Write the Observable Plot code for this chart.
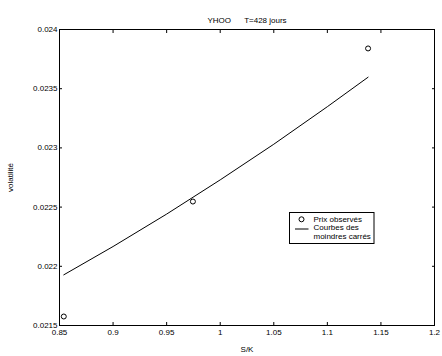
<!DOCTYPE html>
<html>
<head>
<meta charset="utf-8">
<script src="https://cdn.jsdelivr.net/npm/d3@7"></script>
<script src="https://cdn.jsdelivr.net/npm/@observablehq/plot@0.6"></script>
<style>
  html, body { margin: 0; padding: 0; background: #fff; }
  #chart svg { display: block; font-family: "Liberation Sans", Arial, sans-serif; }
</style>
</head>
<body>
<div id="chart"></div>
<script>
// Observed prices
const obsSK = [0.854, 0.9745, 1.138];
const obsVol = [0.021576, 0.022547, 0.02384];
// Least-squares curve
const fitSK = [0.854, 0.90, 0.95, 1.00, 1.05, 1.10, 1.138];
const fitVol = [0.021928, 0.022167, 0.022441, 0.022730, 0.023031, 0.023348, 0.023597];
// Ticks
const xTicks = [0.85, 0.9, 0.95, 1, 1.05, 1.1, 1.15, 1.2];
const yTicks = [0.0215, 0.022, 0.0225, 0.023, 0.0235, 0.024];
const titleText = "YHOO      T=428 jours";
const legendLabels = ["Prix observés", "Courbes des", "moindres carrés"];

const obs = obsSK.map((x, i) => ({x, y: obsVol[i]}));
const fit = fitSK.map((x, i) => ({x, y: fitVol[i]}));

const fmt = d => String(d);
const blank = () => "";

const chart = Plot.plot({
  width: 442,
  height: 356,
  marginLeft: 59,
  marginRight: 8,
  marginTop: 29,
  marginBottom: 31,
  style: {fontSize: "8px", fontFamily: "Liberation Sans, Arial, sans-serif", color: "#000", background: "#fff"},
  x: {domain: [0.85, 1.2]},
  y: {domain: [0.0215, 0.024]},
  marks: [
    Plot.frame({stroke: "#000", strokeWidth: 1}),
    Plot.axisX(xTicks, {anchor: "bottom", tickSize: -3, tickFormat: blank, label: null, stroke: "#000"}),
    Plot.axisX(xTicks, {anchor: "bottom", tickSize: 0, tickPadding: 4, tickFormat: fmt, label: "S/K", labelAnchor: "center", labelArrow: "none", labelOffset: 26, fill: "#000"}),
    Plot.axisX(xTicks, {anchor: "top", tickSize: -3, tickFormat: blank, label: null, stroke: "#000"}),
    Plot.axisY(yTicks, {anchor: "left", tickSize: -3, tickFormat: blank, label: null, stroke: "#000"}),
    Plot.axisY(yTicks, {anchor: "left", tickSize: 0, tickPadding: 2, tickFormat: fmt, label: "volatilité", labelAnchor: "center", labelArrow: "none", labelOffset: 52, fill: "#000"}),
    Plot.axisY(yTicks, {anchor: "right", tickSize: -3, tickFormat: blank, label: null, stroke: "#000"}),
    Plot.line(fit, {x: "x", y: "y", stroke: "#000", strokeWidth: 1}),
    Plot.dot(obs, {x: "x", y: "y", r: 2.5, stroke: "#000", fill: "none", strokeWidth: 1}),
    Plot.text([titleText], {frameAnchor: "top", dy: -12, text: d => d, fill: "#000", fontSize: 8})
  ]
});

document.getElementById("chart").appendChild(chart);

// Legend box (drawn inside the SVG)
const svg = d3.select(chart);
const g = svg.append("g").attr("font-size", 8).attr("font-family", "Liberation Sans, Arial, sans-serif")
  .attr("text-anchor", "start");
const bx = 289.5, by = 212.5, bw = 84.5, bh = 31;
g.append("rect").attr("x", bx).attr("y", by).attr("width", bw).attr("height", bh)
  .attr("fill", "#fff").attr("stroke", "#000").attr("stroke-width", 1);
g.append("circle").attr("cx", bx + 12).attr("cy", by + 6.8).attr("r", 2.5)
  .attr("fill", "none").attr("stroke", "#000");
g.append("line").attr("x1", bx + 5.5).attr("x2", bx + 19).attr("y1", by + 16.5).attr("y2", by + 16.5)
  .attr("stroke", "#000");
legendLabels.forEach((t, i) => {
  g.append("text").attr("x", bx + 24).attr("y", by + 6.8 + i * 8.6).attr("dy", "0.32em")
    .attr("text-anchor", "start").attr("fill", "#000").text(t);
});
</script>
</body>
</html>
